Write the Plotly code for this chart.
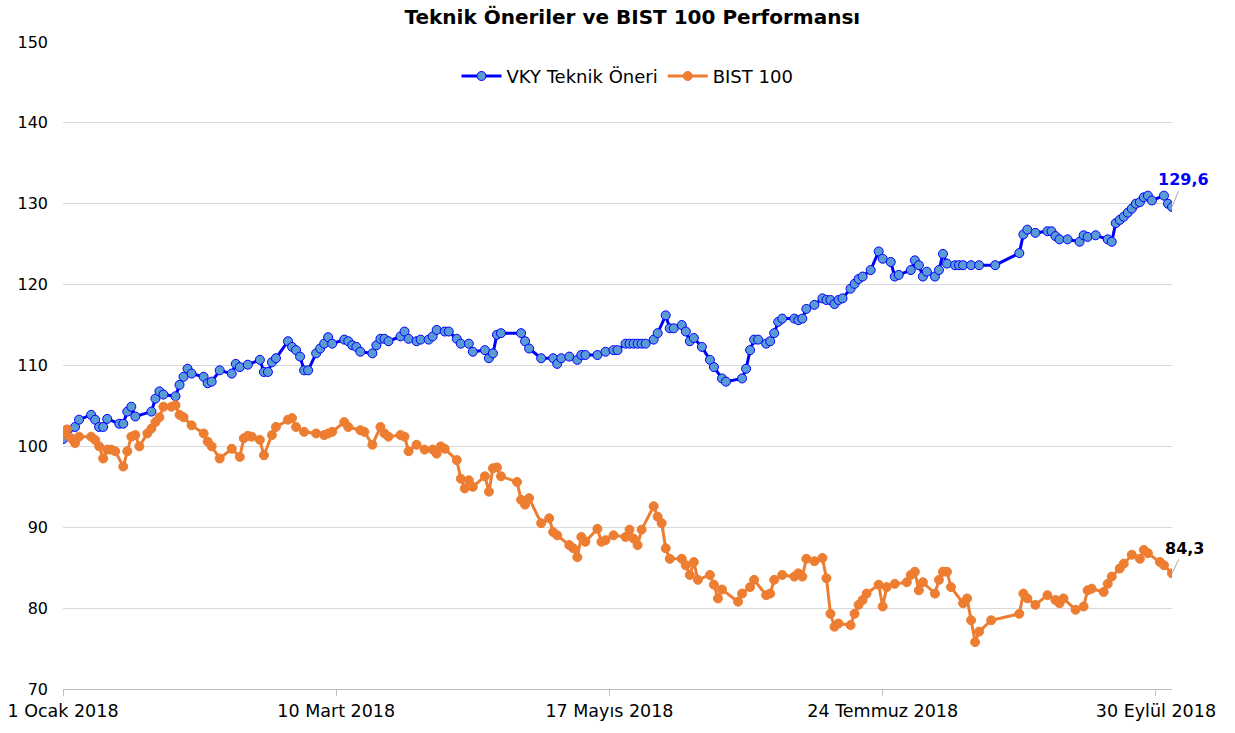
import pandas as pd
import plotly.graph_objects as go

# ---------------- data ----------------
start_date = "2018-01-01"
end_date = "2018-10-04"

vky_days = [0, 3, 4, 7, 8, 9, 10, 11, 14, 15, 16, 17, 18, 22, 23, 24, 25, 28, 29, 30,
            31, 32, 35, 36, 37, 39, 42, 43, 44, 46, 49, 50, 51, 52, 53, 56, 57, 58, 59, 60,
            61, 63, 64, 65, 66, 67, 70, 71, 72, 73, 74, 77, 78, 79, 80, 81, 84, 85, 86, 88,
            89, 91, 92, 93, 95, 96, 98, 99, 101, 102, 105, 106, 107, 108, 109, 114, 115, 116, 119, 122,
            123, 124, 126, 128, 129, 130, 133, 135, 137, 138, 140, 141, 142, 143, 144, 145, 147, 148, 150, 151,
            152, 154, 155, 156, 157, 159, 161, 162, 164, 165, 169, 170, 171, 172, 173, 175, 176, 177, 178, 179,
            182, 183, 184, 185, 187, 189, 190, 191, 192, 193, 194, 196, 197, 198, 199, 201, 203, 204, 206, 207,
            208, 211, 212, 213, 214, 215, 217, 218, 219, 220, 222, 223, 224, 226, 228, 232, 238, 239, 240, 242,
            245, 246, 247, 248, 250, 253, 254, 255, 257, 260, 261, 262, 263, 264, 265, 266, 267, 268, 269, 270,
            271, 274, 275, 276]
vky_values = [100.9, 102.4, 103.3, 103.9, 103.3, 102.4, 102.4, 103.4, 102.8, 102.8, 104.3, 104.9, 103.7, 104.3, 105.9, 106.8, 106.4, 106.2, 107.6, 108.6,
              109.6, 109.0, 108.6, 107.8, 108.0, 109.4, 109.0, 110.2, 109.8, 110.1, 110.7, 109.2, 109.2, 110.4, 110.9, 113.0, 112.3, 111.9, 111.1, 109.4,
              109.4, 111.5, 112.1, 112.7, 113.5, 112.7, 113.2, 113.0, 112.5, 112.3, 111.7, 111.5, 112.5, 113.3, 113.3, 113.0, 113.6, 114.2, 113.3, 113.0,
              113.2, 113.2, 113.6, 114.4, 114.2, 114.2, 113.3, 112.7, 112.7, 111.7, 111.9, 110.9, 111.5, 113.8, 114.0, 114.0, 113.0, 112.1, 110.9, 110.9,
              110.2, 110.9, 111.1, 110.7, 111.3, 111.3, 111.3, 111.7, 111.9, 111.9, 112.7, 112.7, 112.7, 112.7, 112.7, 112.7, 113.2, 114.0, 116.2, 114.6,
              114.6, 115.0, 114.2, 113.0, 113.4, 112.3, 110.7, 109.8, 108.4, 108.0, 108.4, 109.6, 111.9, 113.2, 113.2, 112.7, 113.0, 114.0, 115.4, 115.8,
              115.8, 115.6, 115.8, 117.0, 117.5, 118.3, 118.1, 118.1, 117.6, 118.1, 118.3, 119.5, 120.1, 120.7, 121.0, 121.8, 124.1, 123.2, 122.8, 121.0,
              121.2, 121.8, 123.0, 122.4, 121.0, 121.6, 121.0, 121.8, 123.8, 122.6, 122.4, 122.4, 122.4, 122.4, 122.4, 122.4, 123.9, 126.2, 126.8, 126.4,
              126.6, 126.6, 126.0, 125.6, 125.6, 125.3, 126.1, 125.9, 126.1, 125.6, 125.3, 127.6, 128.0, 128.4, 128.9, 129.4, 130.0, 130.2, 130.8, 131.0,
              130.4, 131.0, 130.0, 129.6]

bist_days = [0, 1, 2, 3, 4, 7, 8, 9, 10, 11, 12, 13, 15, 16, 17, 18, 19, 21, 22, 23,
             24, 25, 27, 28, 29, 30, 32, 35, 36, 37, 39, 42, 44, 45, 46, 47, 49, 50, 52, 53,
             56, 57, 58, 60, 63, 65, 66, 67, 70, 71, 74, 75, 77, 79, 80, 81, 84, 85, 86, 88,
             90, 92, 93, 94, 95, 98, 99, 100, 101, 102, 105, 106, 107, 108, 109, 113, 114, 115, 116, 119,
             121, 122, 123, 126, 127, 128, 129, 130, 133, 134, 135, 137, 140, 141, 142, 143, 144, 147, 148, 149,
             150, 151, 154, 155, 156, 157, 158, 161, 162, 163, 164, 168, 169, 171, 172, 175, 176, 177, 179, 182,
             183, 184, 185, 187, 189, 190, 191, 192, 193, 196, 197, 198, 199, 200, 203, 204, 205, 207, 210, 211,
             212, 213, 214, 217, 218, 219, 220, 221, 224, 225, 226, 227, 228, 231, 238, 239, 240, 242, 245, 247,
             248, 249, 252, 254, 255, 256, 259, 260, 261, 263, 264, 266, 268, 269, 270, 273, 274, 276]
bist_values = [101.5, 102.1, 101.0, 100.4, 101.2, 101.2, 100.8, 100.0, 98.5, 99.6, 99.6, 99.4, 97.5, 99.4, 101.2, 101.4, 100.0, 101.6, 102.2, 103.0,
               103.6, 104.9, 104.9, 105.1, 103.9, 103.6, 102.6, 101.6, 100.6, 100.0, 98.5, 99.7, 98.7, 101.0, 101.3, 101.2, 100.8, 98.9, 101.4, 102.4,
               103.3, 103.5, 102.4, 101.8, 101.6, 101.4, 101.6, 101.8, 103.0, 102.4, 102.0, 101.8, 100.2, 102.4, 101.6, 101.2, 101.4, 101.2, 99.4, 100.2,
               99.6, 99.6, 99.1, 100.0, 99.7, 98.3, 96.0, 94.8, 95.8, 95.0, 96.3, 94.4, 97.3, 97.4, 96.3, 95.6, 93.4, 92.8, 93.6, 90.5,
               91.1, 89.4, 89.0, 87.8, 87.4, 86.3, 88.8, 88.2, 89.8, 88.2, 88.4, 89.0, 88.8, 89.7, 88.6, 87.8, 89.7, 92.6, 91.3, 90.5,
               87.4, 86.1, 86.1, 85.3, 84.1, 85.7, 83.5, 84.1, 82.9, 81.2, 82.3, 80.8, 81.8, 82.6, 83.5, 81.6, 81.8, 83.5, 84.1, 83.9,
               84.3, 83.9, 86.1, 85.8, 86.2, 83.7, 79.3, 77.7, 78.1, 77.9, 79.3, 80.4, 81.0, 81.8, 82.9, 80.2, 82.6, 83.0, 83.2, 84.1,
               84.5, 82.2, 83.2, 81.8, 83.5, 84.5, 84.5, 82.6, 80.6, 81.2, 78.5, 75.8, 77.1, 78.5, 79.3, 81.8, 81.2, 80.4, 81.6, 81.0,
               80.6, 81.2, 79.8, 80.2, 82.2, 82.4, 82.0, 83.0, 83.9, 84.9, 85.5, 86.6, 86.1, 87.2, 86.8, 85.7, 85.3, 84.3]

tick_dates = ["2018-01-01", "2018-03-10", "2018-05-17", "2018-07-24", "2018-09-30"]
tick_labels = ["1 Ocak 2018", "10 Mart 2018", "17 Mayıs 2018", "24 Temmuz 2018", "30 Eylül 2018"]

series_names = ["VKY Teknik Öneri", "BIST 100"]
title_text = "Teknik Öneriler ve BIST 100 Performansı"

# ---------------- build ----------------
base = pd.Timestamp(start_date)
vky_dates = base + pd.to_timedelta(vky_days, unit="D")
bist_dates = base + pd.to_timedelta(bist_days, unit="D")

FONT = "DejaVu Sans"
BLUE = "#0000FF"
BLUE_FILL = "#5B9BD5"
ORANGE = "#ED7D31"

fig = go.Figure()
fig.add_trace(go.Scatter(
    x=vky_dates, y=vky_values, name=series_names[0], mode="lines+markers",
    line=dict(color=BLUE, width=3),
    marker=dict(size=9, color=BLUE_FILL, line=dict(color=BLUE, width=1)),
))
fig.add_trace(go.Scatter(
    x=bist_dates, y=bist_values, name=series_names[1], mode="lines+markers",
    line=dict(color=ORANGE, width=3),
    marker=dict(size=9, color=ORANGE, line=dict(color=ORANGE, width=1)),
))

def fmt(v):
    return f"{v:.1f}".replace(".", ",")

fig.add_annotation(x=vky_dates[-1], y=vky_values[-1], text=fmt(vky_values[-1]),
                   showarrow=True, arrowhead=0, arrowwidth=1, arrowcolor="#A6A6A6",
                   ax=11, ay=-27, font=dict(family=FONT, size=16, color=BLUE, weight="bold"))
fig.add_annotation(x=bist_dates[-1], y=bist_values[-1], text=fmt(bist_values[-1]),
                   showarrow=True, arrowhead=0, arrowwidth=1, arrowcolor="#A6A6A6",
                   ax=12, ay=-25, font=dict(family=FONT, size=16, color="#000000", weight="bold"))

fig.update_layout(
    width=1235, height=733,
    paper_bgcolor="white", plot_bgcolor="white",
    margin=dict(l=63, r=63, t=42, b=44),
    font=dict(family=FONT, size=16, color="#000000"),
    title=dict(text=title_text, x=0.512, xanchor="center", y=0.977, yanchor="middle",
               font=dict(family=FONT, size=20, color="#000000", weight="bold")),
    legend=dict(orientation="h", x=0.509, xanchor="center", y=0.947, yanchor="middle",
                bgcolor="rgba(0,0,0,0)", font=dict(family=FONT, size=18),
                itemwidth=40),
    showlegend=True,
)
fig.update_xaxes(
    type="date", range=[start_date, end_date],
    tickvals=tick_dates, ticktext=tick_labels,
    ticks="outside", ticklen=6, tickcolor="#BFBFBF",
    showline=True, linecolor="#BFBFBF", linewidth=1,
    showgrid=False, zeroline=False, automargin=False,
    tickfont=dict(family=FONT, size=17.5),
)
fig.update_yaxes(
    range=[70, 150], dtick=10, tick0=70,
    showgrid=True, gridcolor="#D9D9D9", gridwidth=1,
    showline=False, zeroline=False, automargin=False,
    ticks="", ticklabelstandoff=14,
    tickfont=dict(family=FONT, size=16),
)

fig.write_html(
    "out.html",
    config={"displayModeBar": False},
    post_script="document.body.style.margin='0';document.body.style.overflow='hidden';",
)
